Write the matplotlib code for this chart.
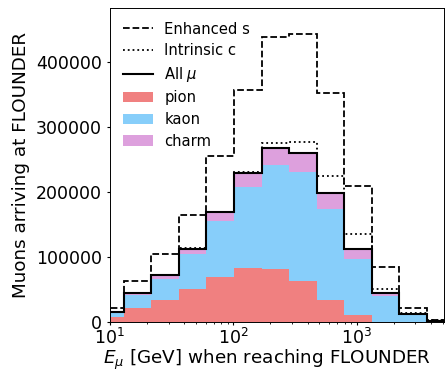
import matplotlib
matplotlib.use('Agg')
import matplotlib.pyplot as plt
from matplotlib.lines import Line2D
import numpy as np

# bordas dos bins em escala log (passo ~0.223 em log10)
bordas = np.logspace(0.89, 0.89 + 0.2232 * 13, 14)
centros = np.sqrt(bordas[:-1] * bordas[1:])

# valores (muons por bin)
enhanced_s = [21000, 62600, 104100, 164100, 254900, 356400, 437400, 442600, 351300, 208700, 83600, 21000, 3000]
intrinsic_c = [15400, 44600, 72300, 112800, 169200, 230200, 275400, 276900, 224100, 134900, 49700, 12800, 2000]
all_mu = [15400, 44600, 71800, 112300, 168700, 228200, 267700, 260000, 197400, 111300, 43600, 11300, 1500]
pion = [7700, 21000, 33300, 50300, 68700, 82600, 81000, 62600, 33300, 10300, 0, 0, 0]
kaon = [6100, 20500, 31800, 53800, 86200, 124100, 160000, 167600, 139500, 86600, 40000, 10300, 1400]
charm = [1600, 3100, 6700, 8200, 13800, 21500, 26700, 29800, 24600, 14400, 3600, 1000, 100]

fig = plt.figure(figsize=(4.45, 3.7), dpi=100)
ax = fig.add_axes([0.247, 0.1305, 0.75, 0.847])

# histogramas empilhados (pion, kaon, charm)
ax.hist([centros, centros, centros], bins=bordas, weights=[pion, kaon, charm],
        histtype='stepfilled', stacked=True,
        color=['lightcoral', 'lightskyblue', 'plum'], label=['pion', 'kaon', 'charm'])

# curvas em degrau
ax.hist(centros, bins=bordas, weights=enhanced_s, histtype='step', color='black',
        linestyle='--', linewidth=1.3, label='Enhanced s')
ax.hist(centros, bins=bordas, weights=intrinsic_c, histtype='step', color='black',
        linestyle=':', linewidth=1.3, label='Intrinsic c')
ax.hist(centros, bins=bordas, weights=all_mu, histtype='step', color='black',
        linestyle='-', linewidth=1.5, label=r'All $\mu$')

ax.set_xscale('log')
ax.set_xlim(10, 5080)
ax.set_ylim(0, 482000)

ax.set_xlabel(r'$E_\mu$ [GeV] when reaching FLOUNDER', fontsize=13.2, labelpad=0)
ax.xaxis.label.set_x(0.47)
ax.set_ylabel('Muons arriving at FLOUNDER', fontsize=13.2, labelpad=4)
ax.tick_params(labelsize=12.5, length=2.4)
ax.tick_params(axis='x', pad=2.0)
ax.tick_params(axis='y', pad=3.5)
ax.tick_params(which='minor', length=1.5)
for s in ax.spines.values():
    s.set_linewidth(0.7)

# ordem da legenda igual a original
h, l = ax.get_legend_handles_labels()
h = list(h)
h[l.index('Enhanced s')] = Line2D([], [], color='black', linestyle='--', linewidth=1.3)
h[l.index('Intrinsic c')] = Line2D([], [], color='black', linestyle=':', linewidth=1.3)
h[l.index(r'All $\mu$')] = Line2D([], [], color='black', linestyle='-', linewidth=1.5)
ordem = [l.index('Enhanced s'), l.index('Intrinsic c'), l.index(r'All $\mu$'),
         l.index('pion'), l.index('kaon'), l.index('charm')]
ax.legend([h[i] for i in ordem], [l[i] for i in ordem], loc='upper left',
          frameon=False, fontsize=10.6, labelspacing=0.45)

plt.savefig('out.png', dpi=100)
